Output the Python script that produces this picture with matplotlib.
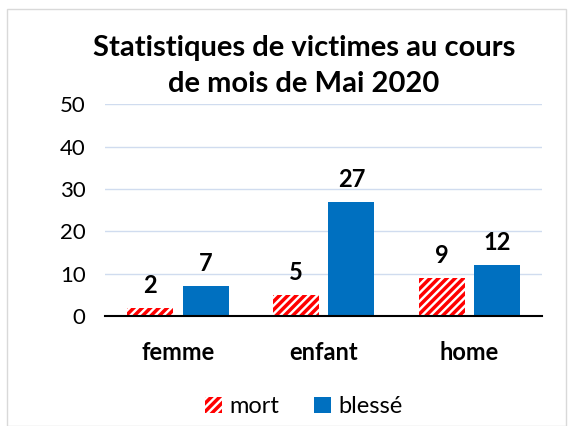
import numpy as np
import matplotlib.pyplot as plt
from matplotlib.patches import Rectangle

categories = ['femme', 'enfant', 'home']
mort = [2, 5, 9]
blesse = [7, 27, 12]

plt.rcParams['font.family'] = ['Lato', 'DejaVu Sans']
plt.rcParams['hatch.linewidth'] = 2.5

fig = plt.figure(figsize=(5.68, 4.26), dpi=100)
ax = fig.add_axes([0.185, 0.258, 0.77, 0.497])

x = np.arange(len(categories))
w = 0.315
off = 0.19
b1 = ax.bar(x - off, mort, w, color='white', edgecolor='#ff0000', hatch='////', linewidth=0, label='mort')
b2 = ax.bar(x + off, blesse, w, color='#0070c0', label='blessé')

for rects, vals in [(b1, mort), (b2, blesse)]:
    for r, v in zip(rects, vals):
        ax.annotate(str(v), (r.get_x() + r.get_width() / 2, v), xytext=(0, 8),
                    textcoords='offset points', ha='center', va='bottom',
                    fontsize=17, fontweight='bold')

ax.set_xlim(-0.5, 2.5)
ax.set_ylim(0, 50)
ax.set_yticks(range(0, 51, 10))
ax.set_xticks(x)
ax.set_xticklabels(categories, fontsize=17, fontweight='bold')
ax.tick_params(axis='y', labelsize=16, length=0, pad=14)
ax.tick_params(axis='x', length=0, pad=18)
ax.grid(axis='y', color='#d0dcef', linewidth=1)
ax.set_axisbelow(True)
for s in ['top', 'right', 'left']:
    ax.spines[s].set_visible(False)
ax.spines['bottom'].set_linewidth(1.5)

fig.text(0.535, 0.845, 'Statistiques de victimes au cours\nde mois de Mai 2020', ha='center', va='center',
         fontsize=21, fontweight='bold', linespacing=1.45)

ax.legend(loc='center', bbox_to_anchor=(0.535, 0.045), bbox_transform=fig.transFigure, ncol=2,
          frameon=False, fontsize=17, handlelength=0.7, handleheight=0.7, handletextpad=0.3, columnspacing=1.5)

fig.patches.append(Rectangle((0.012, 0.0), 0.985, 0.98, transform=fig.transFigure,
                             fill=False, edgecolor='#d9d9d9', linewidth=1))

fig.savefig('out.png', dpi=100)
